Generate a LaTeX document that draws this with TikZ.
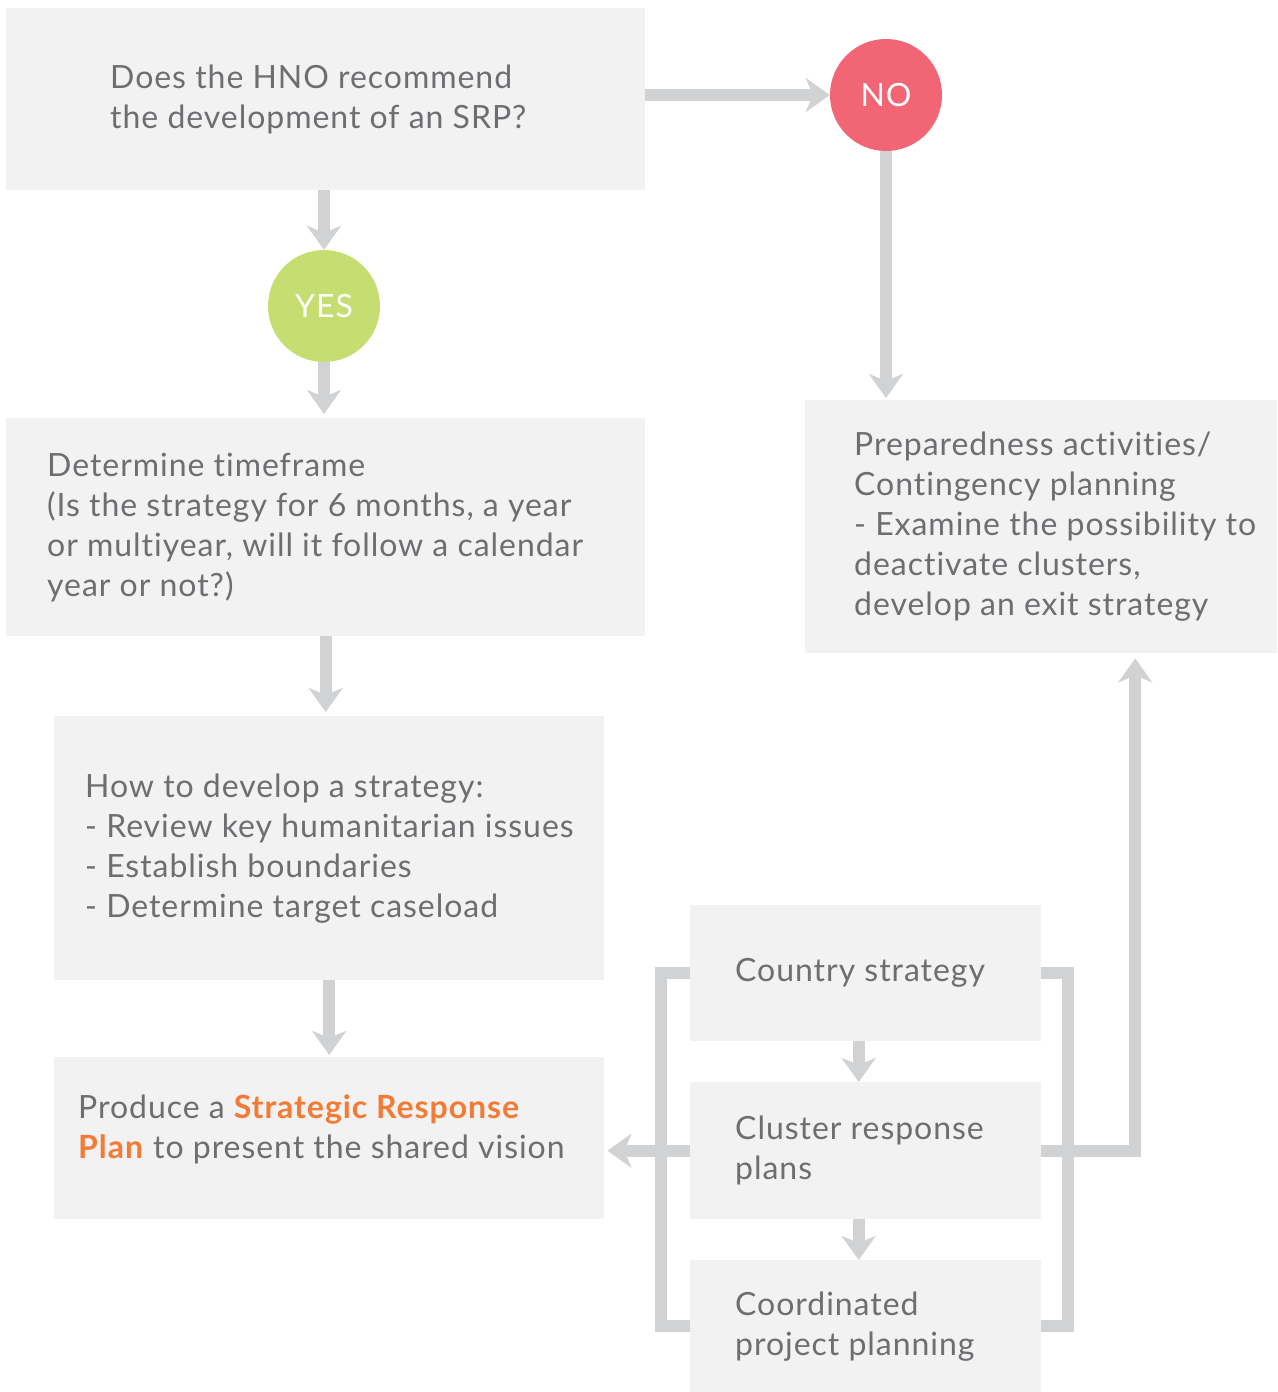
\documentclass[tikz,border=0pt]{standalone}
\usepackage{fontspec}
\setmainfont{Lato}[Ligatures=NoCommon, LetterSpace=3.0]
\usepackage{tikz}
\usetikzlibrary{arrows.meta}
\definecolor{boxgray}{HTML}{F2F2F2}
\definecolor{linegray}{HTML}{D1D2D4}
\definecolor{textgray}{HTML}{6D6E71}
\definecolor{srporange}{HTML}{F47B36}
\definecolor{nored}{HTML}{F16574}
\definecolor{yesgreen}{HTML}{C5DD71}

\begin{document}
\begin{tikzpicture}[x=1pt,y=-1pt,
  panel/.style={fill=boxgray, anchor=north west, inner sep=0pt},
  words/.style={anchor=west, align=left, inner sep=0pt, text=textgray,
    font=\fontsize{32}{40}\selectfont},
  answer/.style={circle, minimum size=112pt, inner sep=0pt, text=white,
    font=\fontsize{32}{40}\selectfont},
  flow/.style={draw=linegray, line width=12pt,
    -{Stealth[length=24pt,width=34pt,inset=7pt]}},
  link/.style={draw=linegray, line width=12pt}]
  \useasboundingbox (0,0) rectangle (1277,1392);

  % Question and answers
  \node[panel, minimum width=639pt, minimum height=182pt,
    label={[words, xshift=104pt]west:{Does the HNO recommend\\the development of an SRP?}}] (hno) at (6,8) {};
  \node[answer, fill=nored] (no) at (886,95) {NO};
  \node[answer, fill=yesgreen] (yes) at (324,306) {YES};

  % Left column
  \node[panel, minimum width=639pt, minimum height=218pt,
    label={[words, xshift=41pt]west:{Determine timeframe\\(Is the strategy for 6 months, a year\\or multiyear, will it follow a calendar\\year or not?)}}] (time) at (6,418) {};
  \node[panel, minimum width=550pt, minimum height=264pt,
    label={[words, xshift=31pt]west:{How to develop a strategy:\\- Review key humanitarian issues\\- Establish boundaries\\- Determine target caseload}}] (howto) at (54,716) {};
  \node[panel, minimum width=550pt, minimum height=162pt,
    label={[words, xshift=24pt, yshift=9pt]west:{Produce a \textcolor{srporange}{\textbf{Strategic Response}}\\\textcolor{srporange}{\textbf{Plan}} to present the shared vision}}] (produce) at (54,1057) {};

  % Right column
  \node[panel, minimum width=472pt, minimum height=253pt,
    label={[words, xshift=49pt]west:{Preparedness activities/\\Contingency planning\\- Examine the possibility to\\deactivate clusters,\\develop an exit strategy}}] (prep) at (805,400) {};
  \node[panel, minimum width=351pt, minimum height=136pt,
    label={[words, xshift=45pt]west:{Country strategy}}] (country) at (690,905) {};
  \node[panel, minimum width=351pt, minimum height=137pt,
    label={[words, xshift=45pt]west:{Cluster response\\plans}}] (cluster) at (690,1082) {};
  \node[panel, minimum width=351pt, minimum height=132pt,
    label={[words, xshift=45pt]west:{Coordinated\\project planning}}] (coord) at (690,1260) {};

  % Arrows
  \draw[flow] (hno.east |- no.west) -- (no.west);
  \draw[flow, shorten >=2pt] (no.south) -- (no.south |- prep.north);
  \draw[flow] (yes.north |- hno.south) -- (yes.north);
  \draw[flow, shorten >=4pt] (yes.south) -- (yes.south |- time.north);
  \draw[flow, shorten >=4pt] (time.south) -- (time.south |- howto.north);
  \draw[flow, shorten >=2pt] (howto.south) -- (produce.north);
  \draw[flow] ([xshift=-7pt]country.south) -- ([xshift=-7pt]cluster.north);
  \draw[flow] ([xshift=-7pt]cluster.south) -- ([xshift=-7pt]coord.north);

  % Brackets
  \draw[link] (country.west) -- ++(-29,0) |- (coord.west);
  \draw[link] (country.east) -- ++(27,0) |- (coord.east);
  \draw[flow, shorten >=3pt] (cluster.west) -- (cluster.west -| produce.east);
  \draw[flow, shorten >=5pt] (cluster.east) -| ([xshift=94pt]prep.south);
\end{tikzpicture}
\end{document}
